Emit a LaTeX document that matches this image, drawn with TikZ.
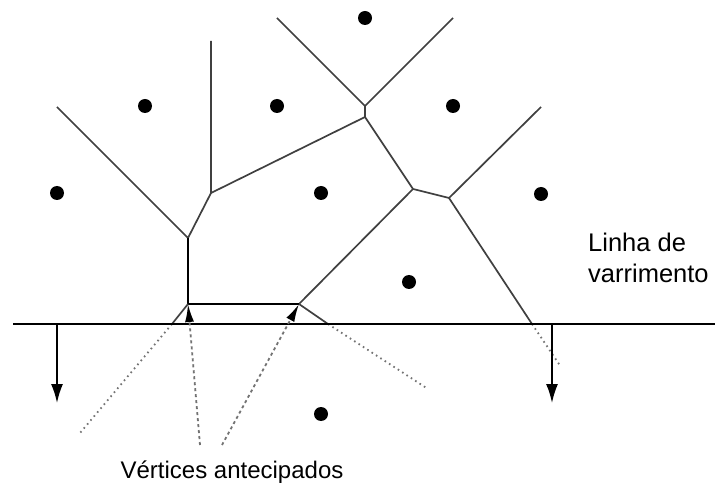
\documentclass[tikz,border=0pt]{standalone}
\usepackage{fontspec}
\setmainfont{Liberation Sans}
\usetikzlibrary{arrows.meta}

\begin{document}
\begin{tikzpicture}[
    x=1pt, y=-1pt,
    sitio/.style={circle, fill=black, inner sep=0pt, minimum size=14pt},
    aresta/.style={draw=black!75, line width=1.7pt},
    varredura/.style={draw=black, line width=2pt},
    prolong/.style={draw=black!55, line width=1.8pt, dash pattern=on 1.6pt off 3.6pt},
    antecip/.style={draw=black!55, line width=1.8pt, dash pattern=on 3pt off 3pt,
        -{Latex[length=18pt, width=9pt, black]}},
    desce/.style={line width=1.8pt, -{Latex[length=19pt, width=12pt]}},
    rotulo/.style={inner sep=0pt, align=left, font=\fontsize{25.5}{31}\selectfont}
]
    \useasboundingbox (0,0) rectangle (715,486);

    % sitios
    \node[sitio] (s1) at (365,18) {};
    \node[sitio] (s2) at (145,106) {};
    \node[sitio] (s3) at (277,106) {};
    \node[sitio] (s4) at (453,106) {};
    \node[sitio] (s5) at (57,193) {};
    \node[sitio] (s6) at (321,193) {};
    \node[sitio] (s7) at (541,194) {};
    \node[sitio] (s8) at (409,282) {};
    \node[sitio] (s9) at (321,414) {};

    % vertices de Voronoi
    \coordinate (v1) at (188,238);
    \coordinate (v2) at (211,193);
    \coordinate (v3) at (365,117);
    \coordinate (v4) at (365,106);
    \coordinate (v5) at (413,189);
    \coordinate (v6) at (449,198);
    \coordinate (v7) at (188,304);
    \coordinate (v8) at (299,304);
    % pontas livres das arestas
    \coordinate (e1) at (57,107);
    \coordinate (e2) at (211,41);
    \coordinate (e3) at (277,18);
    \coordinate (e4) at (453,18);
    \coordinate (e5) at (541,107);
    % cruzamentos com a linha de varredura
    \coordinate (c1) at (172,324);
    \coordinate (c2) at (328,324);
    \coordinate (c3) at (532,324);
    \coordinate (d1) at (80,433);
    \coordinate (d2) at (428,389);
    \coordinate (d3) at (561,367);
    % linha de varredura
    \coordinate (w0) at (13,324);
    \coordinate (w1) at (715,324);
    \coordinate (b1) at (57,324);
    \coordinate (b2) at (552,324);
    \coordinate (f1) at (57,403);
    \coordinate (f2) at (552,403);
    \coordinate (a1) at (200,445);
    \coordinate (a2) at (222,445);

    \draw[aresta] (e1) -- (v1) -- (v2) -- (e2);
    \draw[aresta] (v2) -- (v3) -- (v4) -- (e3);
    \draw[aresta] (v4) -- (e4);
    \draw[aresta] (v3) -- (v5) -- (v6) -- (e5);
    \draw[aresta] (v6) -- (c3);
    \draw[aresta] (v5) -- (v8);
    \draw[aresta, draw=black] (v1) -- (v7);
    \draw[varredura] (v7) -- (v8);
    \draw[aresta] (v7) -- (c1);
    \draw[aresta] (v8) -- (c2);

    \draw[prolong] (c1) -- (d1);
    \draw[prolong] (c2) -- (d2);
    \draw[prolong] (c3) -- (d3);

    \draw[varredura] (w0) -- (w1);
    \draw[desce] (b1) -- (f1);
    \draw[desce] (b2) -- (f2);

    \draw[antecip] (a1) -- (v7);
    \draw[antecip] (a2) -- (v8);

    \node[rotulo, anchor=north west] (linha) at (588,233) {Linha de\\varrimento};
    \node[anchor=base, inner sep=0pt, font=\fontsize{24}{28}\selectfont]
        (antecipados) at (232,478) {Vértices antecipados};
\end{tikzpicture}
\end{document}
